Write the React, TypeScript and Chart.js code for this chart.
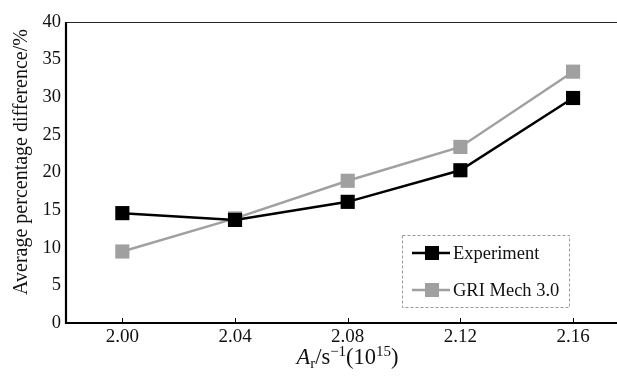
import React, { useEffect, useRef } from "react";
import { Chart, registerables } from "chart.js";

Chart.register(...registerables);

const xValues = [2.0, 2.04, 2.08, 2.12, 2.16];
const experiment = [14.6, 13.7, 16.1, 20.3, 29.9];
const griMech = [9.5, 13.9, 18.9, 23.4, 33.4];
const yTicks = [0, 5, 10, 15, 20, 25, 30, 35, 40];
const seriesNames = ["Experiment", "GRI Mech 3.0"];
const seriesColors = ["#000000", "#a0a0a0"];

const FONT = "'Liberation Serif', 'Times New Roman', serif";

const framePlugin = {
  id: "frame",
  afterDraw(chart: any) {
    const { ctx, chartArea } = chart;
    const { left, right, top, bottom } = chartArea;
    const xs = chart.scales.x;
    ctx.save();
    // top line
    ctx.strokeStyle = "#222";
    ctx.lineWidth = 1.2;
    ctx.beginPath();
    ctx.moveTo(left, top + 0.5);
    ctx.lineTo(right, top + 0.5);
    ctx.stroke();
    // left & bottom axes
    ctx.strokeStyle = "#000";
    ctx.lineWidth = 2.2;
    ctx.beginPath();
    ctx.moveTo(left, top);
    ctx.lineTo(left, bottom);
    ctx.lineTo(right, bottom);
    ctx.stroke();
    // x tick marks inside
    ctx.lineWidth = 1;
    xValues.forEach((v) => {
      const px = Math.round(xs.getPixelForValue(v)) + 0.5;
      ctx.beginPath();
      ctx.moveTo(px, bottom);
      ctx.lineTo(px, bottom - 5);
      ctx.stroke();
    });
    // x title
    ctx.fillStyle = "#111";
    ctx.textBaseline = "alphabetic";
    const baseY = 364;
    const parts = [
      { t: "A", f: `italic 22.5px ${FONT}`, dy: 0 },
      { t: "r", f: `15px ${FONT}`, dy: 4 },
      { t: "/s", f: `22.5px ${FONT}`, dy: 0 },
      { t: "\u22121", f: `15px ${FONT}`, dy: -8 },
      { t: "(10", f: `22.5px ${FONT}`, dy: 0 },
      { t: "15", f: `15px ${FONT}`, dy: -8 },
      { t: ")", f: `22.5px ${FONT}`, dy: 0 },
    ];
    let total = 0;
    parts.forEach((p) => {
      ctx.font = p.f;
      total += ctx.measureText(p.t).width;
    });
    let cx = 347.5 - total / 2;
    ctx.textAlign = "left";
    parts.forEach((p) => {
      ctx.font = p.f;
      ctx.fillText(p.t, cx, baseY + p.dy);
      cx += ctx.measureText(p.t).width;
    });
    // y title
    ctx.save();
    ctx.translate(27, 162);
    ctx.rotate(-Math.PI / 2);
    ctx.font = `20px ${FONT}`;
    ctx.textAlign = "center";
    ctx.textBaseline = "alphabetic";
    ctx.fillText("Average percentage difference/%", 0, 0);
    ctx.restore();
    // legend
    ctx.setLineDash([3, 2]);
    ctx.strokeStyle = "#999";
    ctx.lineWidth = 1;
    ctx.strokeRect(402.5, 235.5, 167, 72);
    ctx.setLineDash([]);
    const rows = [253, 290];
    rows.forEach((ry, i) => {
      ctx.strokeStyle = seriesColors[i];
      ctx.lineWidth = 2.5;
      ctx.beginPath();
      ctx.moveTo(412, ry);
      ctx.lineTo(450, ry);
      ctx.stroke();
      ctx.fillStyle = seriesColors[i];
      ctx.fillRect(425, ry - 7, 14, 14);
      ctx.fillStyle = "#111";
      ctx.font = `18.5px ${FONT}`;
      ctx.textAlign = "left";
      ctx.textBaseline = "middle";
      ctx.fillText(seriesNames[i], 453, ry + 1);
    });
    ctx.restore();
  },
};

export default function App() {
  const ref = useRef<HTMLCanvasElement>(null);
  useEffect(() => {
    document.body.style.margin = "0";
    const c = ref.current!;
    const mk = (vals: number[]) => xValues.map((x, i) => ({ x, y: vals[i] }));
    const chart = new Chart(c, {
      type: "line",
      data: {
        datasets: [
          {
            label: seriesNames[0],
            data: mk(experiment),
            borderColor: seriesColors[0],
            backgroundColor: seriesColors[0],
            borderWidth: 2.5,
            pointStyle: "rect",
            pointRadius: 10,
            pointBorderWidth: 0,
            tension: 0,
          },
          {
            label: seriesNames[1],
            data: mk(griMech),
            borderColor: seriesColors[1],
            backgroundColor: seriesColors[1],
            borderWidth: 2.5,
            pointStyle: "rect",
            pointRadius: 10,
            pointBorderWidth: 0,
            tension: 0,
          },
        ],
      },
      options: {
        animation: false,
        responsive: false,
        maintainAspectRatio: false,
        layout: { autoPadding: false, padding: { top: 22, right: 0, left: 0, bottom: 0 } },
        plugins: { legend: { display: false }, tooltip: { enabled: false } },
        scales: {
          x: {
            type: "linear",
            min: 1.98,
            max: 2.1756,
            afterBuildTicks: (s: any) => {
              s.ticks = xValues.map((v) => ({ value: v }));
            },
            afterFit: (s: any) => {
              s.height = 56;
            },
            grid: { display: false, drawTicks: false },
            border: { display: false },
            ticks: {
              font: { family: FONT, size: 19 },
              color: "#111",
              padding: 3,
              maxRotation: 0,
              autoSkip: false,
              callback: (v: any) => Number(v).toFixed(2),
            },
          },
          y: {
            min: 0,
            max: 40,
            afterBuildTicks: (s: any) => {
              s.ticks = yTicks.map((v) => ({ value: v }));
            },
            afterFit: (s: any) => {
              s.width = 66;
            },
            grid: { display: false, drawTicks: false },
            border: { display: false },
            ticks: {
              font: { family: FONT, size: 18.5 },
              color: "#111",
              padding: 5,
            },
          },
        },
      },
      plugins: [framePlugin],
    } as any);
    return () => chart.destroy();
  }, []);
  return (
    <div style={{ position: "fixed", left: 0, top: 0, width: 617, height: 379, background: "#fff" }}>
      <canvas ref={ref} width={617} height={379} style={{ width: 617, height: 379 }} />
    </div>
  );
}
